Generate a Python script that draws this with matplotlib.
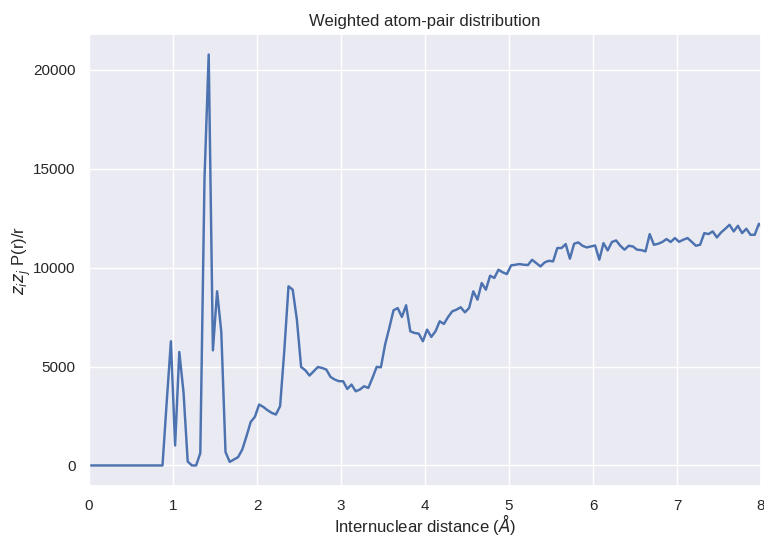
import numpy as np
import matplotlib
matplotlib.use("Agg")
import matplotlib.pyplot as plt
import seaborn as sns

# bin centres of the pair distance histogram (Angstrom)
r = np.linspace(0.025, 8.025, 161)

# weighted atom-pair distribution
zz_p = [
    0, 0, 0, 0, 0, 0, 0, 0, 0, 0,
    0, 0, 0, 0, 0, 0, 0, 0, 3200, 6280,
    1010, 5740, 3710, 200, 0, 0, 620, 14500, 20780, 5820,
    8810, 6750, 680, 180, 300, 420, 808, 1480, 2200, 2460,
    3080, 2960, 2795, 2660, 2575, 3000, 5800, 9060, 8890, 7370,
    4980, 4815, 4545, 4765, 4980, 4930, 4850, 4480, 4345, 4260,
    4260, 3870, 4090, 3750, 3840, 4005, 3920, 4430, 4985, 4965,
    6110, 6955, 7845, 7960, 7510, 8100, 6785, 6700, 6665, 6280,
    6870, 6500, 6785, 7290, 7155, 7510, 7795, 7880, 8000, 7745,
    7960, 8805, 8385, 9225, 8890, 9595, 9480, 9900, 9765, 9680,
    10115, 10150, 10185, 10150, 10135, 10400, 10235, 10065, 10270, 10350,
    10320, 10995, 10995, 11195, 10455, 11210, 11280, 11110, 11025, 11075,
    11125, 10405, 11245, 10875, 11300, 11380, 11110, 10910, 11110, 11075,
    10910, 10890, 10825, 11700, 11160, 11210, 11300, 11450, 11300, 11500,
    11310, 11415, 11500, 11310, 11110, 11160, 11750, 11700, 11835, 11530,
    11785, 11970, 12170, 11835, 12120, 11750, 11970, 11665, 11665, 12220,
    12000,
]

sns.set_theme(style="darkgrid")
plt.rcParams['font.family'] = ['Liberation Sans', 'DejaVu Sans']

fig, ax = plt.subplots(figsize=(7.64, 5.35), dpi=100)
fig.subplots_adjust(left=89 / 764, right=761 / 764, top=1 - 34 / 535, bottom=1 - 486 / 535)

ax.plot(r, zz_p, color="#4C72B0", linewidth=1.75)
ax.set_xlim(0, 8)
ax.set_title("Weighted atom-pair distribution", fontsize=12)
ax.set_xlabel(r"Internuclear distance ($\AA$)", fontsize=12, labelpad=-1)
ax.set_ylabel(r"$z_i z_j$ P(r)/r", fontsize=12, labelpad=0)
ax.tick_params(labelsize=11)

fig.savefig("out.png", dpi=100)
